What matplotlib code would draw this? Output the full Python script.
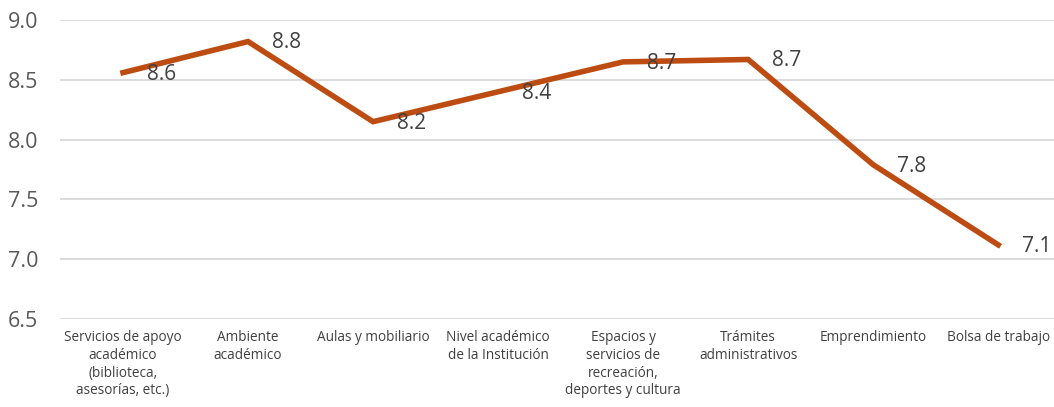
import matplotlib.pyplot as plt
import numpy as np

categorias = [
    "Servicios de apoyo\nacadémico\n(biblioteca,\nasesorías, etc.)",
    "Ambiente\nacadémico",
    "Aulas y mobiliario",
    "Nivel académico\nde la Institución",
    "Espacios y\nservicios de\nrecreación,\ndeportes y cultura",
    "Trámites\nadministrativos",
    "Emprendimiento",
    "Bolsa de trabajo",
]
valores = [8.56, 8.82, 8.15, 8.40, 8.65, 8.67, 7.79, 7.12]
etiquetas = ["8.6", "8.8", "8.2", "8.4", "8.7", "8.7", "7.8", "7.1"]

plt.rcParams['font.family'] = ['Open Sans', 'DejaVu Sans']

fig = plt.figure(figsize=(10.54, 4.07), dpi=100)
ax = fig.add_axes([0.0574, 0.2162, 0.949, 0.7346])

x = np.arange(1, len(valores) + 1)
ax.plot(x, valores, color='#BC4C12', lw=4, solid_joinstyle='miter', zorder=3)

for xi, v, t in zip(x, valores, etiquetas):
    ax.annotate(t, (xi, v), xytext=(17, -1), textcoords='offset points',
                ha='left', va='center', fontsize=15, color='#404040')

ax.set_xlim(0.5, 8.5)
ax.set_ylim(6.5, 9.0)
ax.set_yticks(np.arange(6.5, 9.01, 0.5))
ax.set_yticklabels([f"{v:.1f}" for v in np.arange(6.5, 9.01, 0.5)])
ax.set_xticks(x)
ax.set_xticklabels(categorias, fontsize=9.8, color='#404040', linespacing=1.25)
ax.tick_params(axis='y', labelsize=15.5, labelcolor='#595959', length=0, pad=16)
ax.tick_params(axis='x', length=0, pad=8)
ax.grid(axis='y', color='#D9D9D9', lw=1.3)
ax.set_axisbelow(True)
for s in ax.spines.values():
    s.set_visible(False)

fig.savefig('out.png', dpi=100)
